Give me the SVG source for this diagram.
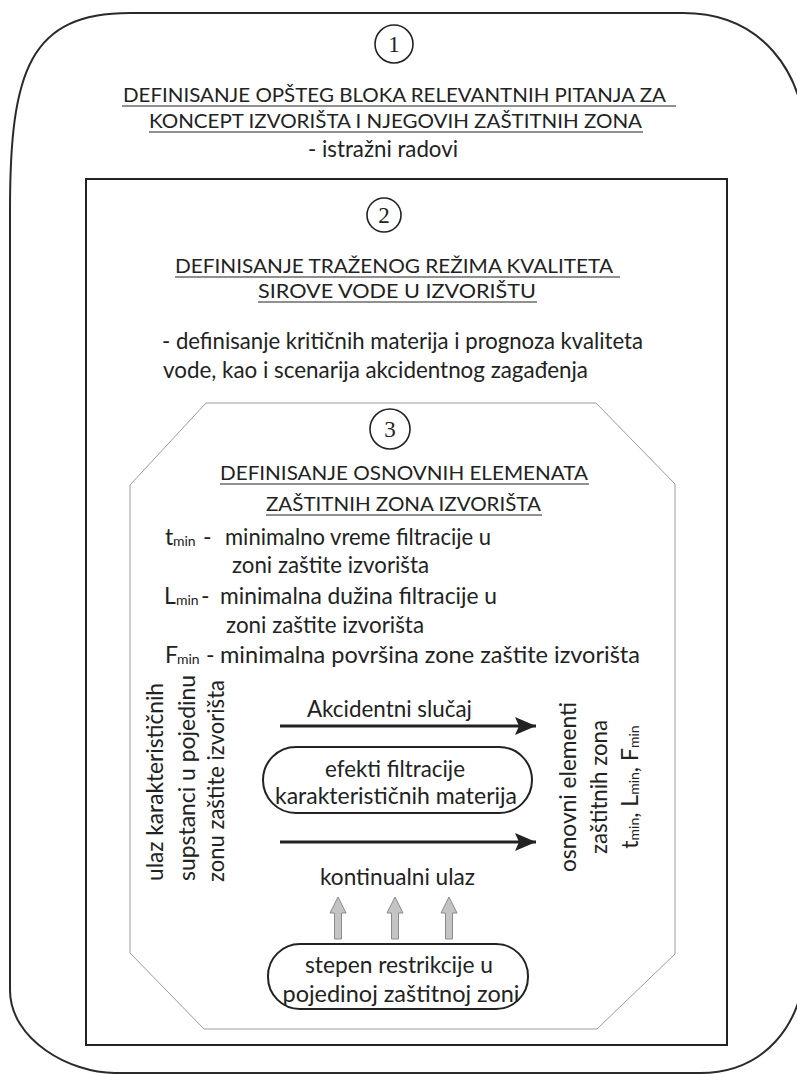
<svg xmlns="http://www.w3.org/2000/svg" width="797" height="1074" viewBox="0 0 797 1074">
<style>
  .t { font-family: Lato, "Liberation Sans", sans-serif; fill: #222; }
  .h { font-size: 20px; }
  .b { font-size: 23px; }
  .s { font-size: 14px; }
  .ul { stroke: #222; stroke-width: 1.2; }
  .num { font-family: "Liberation Serif", serif; font-size: 23px; fill: #222; text-anchor: middle; }
  .circ { fill: none; stroke: #222; stroke-width: 1.6; }
  .pill { fill: #fff; stroke: #222; stroke-width: 2; }
  .blk { stroke: #222; stroke-width: 3; fill: none; }
  .gray { fill: #c4c4c4; stroke: #8a8a8a; stroke-width: 1; }
</style>
<defs>
  <marker id="ah" markerUnits="userSpaceOnUse" markerWidth="24" markerHeight="20" refX="21" refY="9" orient="auto">
    <path d="M0,0 L21,9 L0,18 L4,9 Z" fill="#222"/>
  </marker>
  <path id="garrow" d="M-3.5,42 L-3.5,16 L-8,16 L0,0 L8,16 L3.5,16 L3.5,42 Z"/>
</defs>
<rect width="797" height="1074" fill="#fff"/>

<g id="block1">
  <path d="M10,210 C10,70 30,13 130,13 H683 C760,13 806,70 806,150 V950 C806,1030 760,1073 700,1073 H115 C70,1073 10,1040 10,990 Z" fill="none" stroke="#2a2a2a" stroke-width="2"/>
  <circle class="circ" cx="394" cy="44" r="19"/>
  <text class="num" x="394" y="52">1</text>
  <text class="t h" x="123" y="102" textLength="543" lengthAdjust="spacingAndGlyphs">DEFINISANJE OPŠTEG BLOKA RELEVANTNIH PITANJA ZA</text>
  <line class="ul" x1="122" y1="106" x2="676" y2="106"/>
  <text class="t h" x="149" y="128" textLength="493" lengthAdjust="spacingAndGlyphs">KONCEPT IZVORIŠTA I NJEGOVIH ZAŠTITNIH ZONA</text>
  <line class="ul" x1="149" y1="132" x2="643" y2="132"/>
  <text class="t b" x="308" y="157" textLength="150" lengthAdjust="spacingAndGlyphs">- istražni radovi</text>
</g>

<g id="block2">
  <rect x="86" y="179" width="641" height="866" fill="none" stroke="#222" stroke-width="2"/>
  <circle class="circ" cx="384" cy="215" r="17"/>
  <text class="num" x="384" y="223">2</text>
  <text class="t h" x="175" y="273" textLength="438" lengthAdjust="spacingAndGlyphs">DEFINISANJE TRAŽENOG REŽIMA KVALITETA</text>
  <line class="ul" x1="175" y1="277" x2="620" y2="277"/>
  <text class="t h" x="258" y="298" textLength="278" lengthAdjust="spacingAndGlyphs">SIROVE VODE U IZVORIŠTU</text>
  <line class="ul" x1="258" y1="302" x2="537" y2="302"/>
  <text class="t b" x="162" y="349" textLength="481" lengthAdjust="spacingAndGlyphs">- definisanje kritičnih materija i prognoza kvaliteta</text>
  <text class="t b" x="163" y="378" textLength="425" lengthAdjust="spacingAndGlyphs">vode, kao i scenarija akcidentnog zagađenja</text>
</g>

<g id="block3">
  <polygon points="206,403 596,403 675,484 675,954 597,1029 204,1029 130,953 130,485" fill="none" stroke="#9a9a9a" stroke-width="1"/>
  <circle class="circ" cx="390" cy="429" r="20"/>
  <text class="num" x="390" y="437">3</text>
  <text class="t h" x="220" y="480" textLength="368" lengthAdjust="spacingAndGlyphs">DEFINISANJE OSNOVNIH ELEMENATA</text>
  <line class="ul" x1="220" y1="484" x2="589" y2="484"/>
  <text class="t h" x="266" y="511" textLength="275" lengthAdjust="spacingAndGlyphs">ZAŠTITNIH ZONA IZVORIŠTA</text>
  <line class="ul" x1="266" y1="515" x2="542" y2="515"/>

  <text class="t b" x="165" y="545">t</text>
  <text class="t s" x="173" y="546">min</text>
  <text class="t b" x="203" y="545">-</text>
  <text class="t b" x="225" y="545" textLength="266" lengthAdjust="spacingAndGlyphs">minimalno vreme filtracije u</text>
  <text class="t b" x="232" y="573" textLength="197" lengthAdjust="spacingAndGlyphs">zoni zaštite izvorišta</text>

  <text class="t b" x="164" y="604">L</text>
  <text class="t s" x="176" y="605">min</text>
  <text class="t b" x="201" y="604">-</text>
  <text class="t b" x="220" y="604" textLength="277" lengthAdjust="spacingAndGlyphs">minimalna dužina filtracije u</text>
  <text class="t b" x="226" y="633" textLength="198" lengthAdjust="spacingAndGlyphs">zoni zaštite izvorišta</text>

  <text class="t b" x="165" y="663">F</text>
  <text class="t s" x="177" y="664">min</text>
  <text class="t b" x="206" y="663">-</text>
  <text class="t b" x="220" y="663" textLength="420" lengthAdjust="spacingAndGlyphs">minimalna površina zone zaštite izvorišta</text>

  <text class="t b" transform="translate(163,881) rotate(-90)" textLength="198" lengthAdjust="spacingAndGlyphs">ulaz karakterističnih</text>
  <text class="t b" transform="translate(195,881) rotate(-90)" textLength="206" lengthAdjust="spacingAndGlyphs">supstanci u pojedinu</text>
  <text class="t b" transform="translate(224,882) rotate(-90)" textLength="202" lengthAdjust="spacingAndGlyphs">zonu zaštite izvorišta</text>

  <text class="t b" transform="translate(576,787) rotate(-90)" text-anchor="middle" textLength="170" lengthAdjust="spacingAndGlyphs">osnovni elementi</text>
  <text class="t b" transform="translate(607,787) rotate(-90)" text-anchor="middle" textLength="134" lengthAdjust="spacingAndGlyphs">zaštitnih zona</text>
  <text class="t b" transform="translate(638,787) rotate(-90)" text-anchor="middle">t<tspan class="s" dy="1">min</tspan><tspan dy="-1">, L</tspan><tspan class="s" dy="1">min</tspan><tspan dy="-1">, F</tspan><tspan class="s" dy="1">min</tspan></text>
</g>

<g id="connectors">
  <line class="blk" x1="280" y1="726" x2="536" y2="726" marker-end="url(#ah)"/>
  <line class="blk" x1="280" y1="842" x2="536" y2="842" marker-end="url(#ah)"/>
  <use href="#garrow" class="gray" transform="translate(338,897)"/>
  <use href="#garrow" class="gray" transform="translate(395,897)"/>
  <use href="#garrow" class="gray" transform="translate(449,897)"/>
</g>

<g id="label-akcidentni">
  <text class="t b" x="307" y="717" textLength="165" lengthAdjust="spacingAndGlyphs">Akcidentni slučaj</text>
</g>

<g id="node-efekti">
  <rect class="pill" x="263" y="747" width="269" height="66" rx="33" ry="33"/>
  <text class="t b" x="395" y="777" text-anchor="middle" textLength="140" lengthAdjust="spacingAndGlyphs">efekti filtracije</text>
  <text class="t b" x="396" y="804" text-anchor="middle" textLength="242" lengthAdjust="spacingAndGlyphs">karakterističnih materija</text>
</g>

<g id="label-kontinualni">
  <text class="t b" x="320" y="885" textLength="155" lengthAdjust="spacingAndGlyphs">kontinualni ulaz</text>
</g>

<g id="node-stepen">
  <rect class="pill" x="268" y="944" width="260" height="65" rx="32" ry="32"/>
  <text class="t b" x="399" y="973" text-anchor="middle" textLength="188" lengthAdjust="spacingAndGlyphs">stepen restrikcije u</text>
  <text class="t b" x="401" y="1002" text-anchor="middle" textLength="237" lengthAdjust="spacingAndGlyphs">pojedinoj zaštitnoj zoni</text>
</g>
</svg>
